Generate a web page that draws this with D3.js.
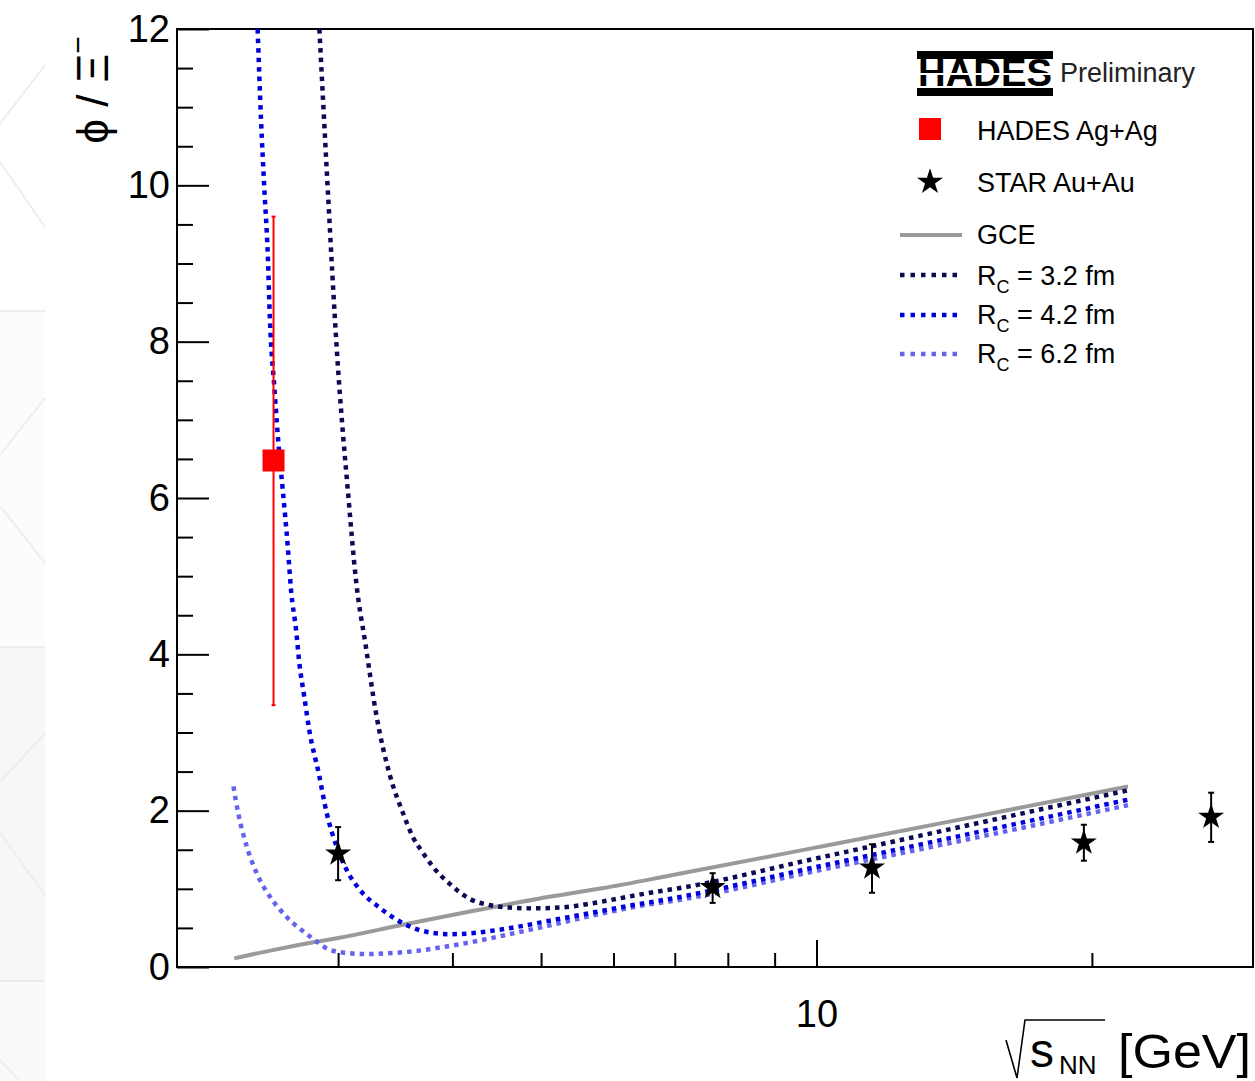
<!DOCTYPE html>
<html>
<head>
<meta charset="utf-8">
<script src="https://cdn.jsdelivr.net/npm/d3@7"></script>
<style>
  body { margin: 0; background: #fff; }
  text { font-family: "Liberation Sans", Arial, Helvetica, sans-serif; }
</style>
</head>
<body>
<svg id="chart" width="1255" height="1081"></svg>
<script>
// ---- axis setup ----
const xDomain = [2, 30];
const yDomain = [0, 12];
const yMajorTicks = [0, 2, 4, 6, 8, 10, 12];
const yMinorTicks = d3.range(0, 12.01, 0.5).filter(v => v % 2 !== 0);
const xMajorTicks = [10];
const xMinorTicks = [3, 4, 5, 6, 7, 8, 9, 20];

// ---- measurements ----
const hadesEnergy = [2.55];
const hadesRatio = [6.48];
const hadesLow = [3.35];
const hadesHigh = [9.60];

const starEnergy = [3.0, 7.7, 11.5, 19.6, 27.0];
const starRatio = [1.45, 1.02, 1.27, 1.59, 1.92];
const starLow = [1.11, 0.82, 0.95, 1.36, 1.60];
const starHigh = [1.79, 1.20, 1.57, 1.82, 2.23];

// ---- model curves ----
const gceEnergy = [2.31, 2.53, 2.8, 3.0, 3.53, 4.18, 4.95, 5.85, 6.92, 10, 15, 21.9];
const gceRatio  = [0.11, 0.21, 0.31, 0.37, 0.54, 0.71, 0.87, 1.01, 1.17, 1.53, 1.93, 2.31];

const rc32Energy = [2.862, 2.922, 2.992, 3.081, 3.138, 3.218, 3.30, 3.418, 3.532, 3.622, 3.714, 3.81,
                    3.976, 4.18, 4.40, 4.62, 4.86, 5.24, 5.66, 6.10, 6.58, 7.09, 10, 15, 21.9];
const rc32Ratio  = [12.0, 9.98, 7.85, 5.97, 4.95, 4.09, 3.25, 2.45, 1.97, 1.66, 1.46, 1.28,
                    1.06, 0.87, 0.79, 0.76, 0.75, 0.76, 0.81, 0.88, 0.95, 1.01, 1.39, 1.84, 2.26];

const rc42Energy = [2.45, 2.471, 2.491, 2.513, 2.527, 2.555, 2.587, 2.61, 2.643, 2.665, 2.699, 2.721,
                    2.755, 2.79, 2.857, 2.915, 2.989, 3.066, 3.17, 3.334, 3.532, 3.749, 3.976, 4.18,
                    4.396, 4.742, 5.15, 5.66, 6.25, 6.86, 10, 15, 21.9];
const rc42Ratio  = [12.0, 10.84, 9.98, 9.13, 8.28, 7.42, 6.57, 6.1, 5.38, 4.82, 4.31, 3.89,
                    3.46, 3.03, 2.48, 1.97, 1.54, 1.24, 0.985, 0.755, 0.56, 0.45, 0.42, 0.43,
                    0.46, 0.52, 0.60, 0.69, 0.785, 0.865, 1.28, 1.725, 2.14];

const rc62Energy = [2.305, 2.333, 2.384, 2.444, 2.527, 2.636, 2.795, 2.939, 3.091, 3.24, 3.39, 3.65,
                    3.93, 4.29, 4.66, 5.1, 5.7, 6.4, 7.09, 10, 15, 21.9];
const rc62Ratio  = [2.31, 1.97, 1.54, 1.20, 0.90, 0.64, 0.39, 0.22, 0.175, 0.165, 0.175, 0.205,
                    0.26, 0.34, 0.43, 0.53, 0.66, 0.78, 0.86, 1.23, 1.66, 2.07];

// ---- legend ----
const legendLabels = ["HADES Ag+Ag", "STAR Au+Au", "GCE", "3.2 fm", "4.2 fm", "6.2 fm"];

const colors = { hades: "#ff0000", star: "#000000", gce: "#9a9a9a",
                 rc32: "#0a0a55", rc42: "#0000dd", rc62: "#6464ee" };

const svg = d3.select("#chart");
const margin = { left: 177, top: 29, right: 1253, bottom: 967 };

const x = d3.scaleLog().domain(xDomain).range([margin.left, margin.right]);
const y = d3.scaleLinear().domain(yDomain).range([margin.bottom, margin.top]);

// ---- faint slide background on the left edge ----
const bg = svg.append("g").attr("class", "backdrop");
bg.append("rect").attr("x", 0).attr("y", 312).attr("width", 45).attr("height", 335).attr("fill", "#fcfcfc");
bg.append("rect").attr("x", 0).attr("y", 647).attr("width", 45).attr("height", 334).attr("fill", "#f7f7f7");
bg.append("rect").attr("x", 0).attr("y", 981).attr("width", 45).attr("height", 100).attr("fill", "#fafafa");
const bgLines = [[45, 65, 0, 124], [0, 162, 45, 227], [0, 311, 45, 311], [45, 398, 0, 455], [0, 506, 45, 563],
                 [0, 647, 45, 647], [45, 733, 0, 782], [0, 833, 45, 895], [0, 981, 45, 981], [0, 1060, 20, 1081]];
bg.selectAll("line").data(bgLines).join("line")
  .attr("x1", d => d[0]).attr("y1", d => d[1]).attr("x2", d => d[2]).attr("y2", d => d[3])
  .attr("stroke", "#ededed").attr("stroke-width", 2);

// ---- clip to the frame ----
svg.append("clipPath").attr("id", "plotClip")
  .append("rect").attr("x", margin.left).attr("y", margin.top)
  .attr("width", margin.right - margin.left).attr("height", margin.bottom - margin.top);

// ---- axes (ticks point inward) ----
const yAxis = d3.axisLeft(y).tickValues(yMajorTicks).tickSizeInner(-32).tickSizeOuter(0)
  .tickPadding(7).tickFormat(d3.format("d"));
const gy = svg.append("g").attr("transform", `translate(${margin.left},0)`).call(yAxis);
const yMinor = d3.axisLeft(y).tickValues(yMinorTicks).tickSizeInner(-16).tickSizeOuter(0).tickFormat("");
const gyMinor = svg.append("g").attr("transform", `translate(${margin.left},0)`).call(yMinor);

const xAxis = d3.axisBottom(x).tickValues(xMajorTicks).tickSizeInner(-27).tickSizeOuter(0)
  .tickPadding(33).tickFormat(d3.format("d"));
const gx = svg.append("g").attr("transform", `translate(0,${margin.bottom})`).call(xAxis);
const xMinor = d3.axisBottom(x).tickValues(xMinorTicks).tickSizeInner(-14).tickSizeOuter(0).tickFormat("");
const gxMinor = svg.append("g").attr("transform", `translate(0,${margin.bottom})`).call(xMinor);

[gy, gyMinor, gx, gxMinor].forEach(g => {
  g.select(".domain").remove();
  g.selectAll(".tick line").attr("stroke", "#000").attr("stroke-width", 2);
  g.selectAll(".tick text").attr("fill", "#000").attr("font-size", 38)
    .attr("font-family", "'Liberation Sans', Arial, sans-serif");
});

// frame
svg.append("rect").attr("x", margin.left).attr("y", margin.top)
  .attr("width", margin.right - margin.left).attr("height", margin.bottom - margin.top)
  .attr("fill", "none").attr("stroke", "#000").attr("stroke-width", 2);

// ---- axis titles ----
const yTitle = svg.append("text")
  .attr("transform", "translate(108,90) rotate(-90)")
  .attr("text-anchor", "middle").attr("font-size", 44).attr("fill", "#000")
  .attr("font-family", "'Liberation Serif', 'DejaVu Serif', serif");
yTitle.append("tspan").text("\u03D5 / \u039E");
yTitle.append("tspan").attr("font-size", 30).attr("dy", -20).text("\u2212");

const xt = svg.append("g").attr("class", "x-title");
xt.append("path")
  .attr("d", "M1006,1040 L1017,1078 L1025,1020 L1105,1020")
  .attr("fill", "none").attr("stroke", "#000").attr("stroke-width", 1.6);
xt.append("text").attr("x", 1030).attr("y", 1067).attr("font-size", 48).text("s");
xt.append("text").attr("x", 1059).attr("y", 1074).attr("font-size", 26).text("NN");
xt.append("text").attr("x", 1118).attr("y", 1068).attr("font-size", 48)
  .attr("textLength", 133).attr("lengthAdjust", "spacingAndGlyphs").text("[GeV]");

// ---- curves ----
const plot = svg.append("g").attr("clip-path", "url(#plotClip)");
const line = d3.line().x(d => x(d[0])).y(d => y(d[1])).curve(d3.curveMonotoneX);

const curves = [
  { e: gceEnergy,  r: gceRatio,  color: colors.gce,  dash: null },
  { e: rc62Energy, r: rc62Ratio, color: colors.rc62, dash: "4.5,5" },
  { e: rc42Energy, r: rc42Ratio, color: colors.rc42, dash: "4.5,5" },
  { e: rc32Energy, r: rc32Ratio, color: colors.rc32, dash: "4.5,5" }
];
curves.forEach(c => {
  plot.append("path")
    .datum(c.e.map((v, i) => [v, c.r[i]]))
    .attr("d", line)
    .attr("fill", "none")
    .attr("stroke", c.color)
    .attr("stroke-width", c.dash ? 4.5 : 4)
    .attr("stroke-dasharray", c.dash);
});

// ---- HADES point ----
hadesEnergy.forEach((e, i) => {
  const cx = x(e);
  plot.append("line").attr("x1", cx).attr("x2", cx)
    .attr("y1", y(hadesLow[i])).attr("y2", y(hadesHigh[i]))
    .attr("stroke", colors.hades).attr("stroke-width", 2);
  [hadesLow[i], hadesHigh[i]].forEach(v => {
    plot.append("line").attr("x1", cx - 2).attr("x2", cx + 2)
      .attr("y1", y(v)).attr("y2", y(v)).attr("stroke", colors.hades).attr("stroke-width", 2);
  });
  plot.append("rect").attr("x", cx - 11).attr("y", y(hadesRatio[i]) - 11)
    .attr("width", 22).attr("height", 22).attr("fill", colors.hades);
});

// ---- STAR points ----
const starSym = d3.symbol().type(d3.symbolStar).size(210);
starEnergy.forEach((e, i) => {
  const cx = x(e);
  plot.append("line").attr("x1", cx).attr("x2", cx)
    .attr("y1", y(starLow[i])).attr("y2", y(starHigh[i]))
    .attr("stroke", "#000").attr("stroke-width", 2);
  [starLow[i], starHigh[i]].forEach(v => {
    plot.append("line").attr("x1", cx - 3).attr("x2", cx + 3)
      .attr("y1", y(v)).attr("y2", y(v)).attr("stroke", "#000").attr("stroke-width", 2);
  });
  plot.append("path").attr("d", starSym)
    .attr("transform", `translate(${cx},${y(starRatio[i])})`).attr("fill", colors.star);
});

// ---- legend ----
const lg = svg.append("g").attr("class", "legend");
// HADES logo: black bars above and below heavy lettering
lg.append("rect").attr("x", 917).attr("y", 51).attr("width", 136).attr("height", 8).attr("fill", "#000");
lg.append("rect").attr("x", 917).attr("y", 88).attr("width", 136).attr("height", 8).attr("fill", "#000");
lg.append("text").attr("x", 918).attr("y", 86).attr("font-size", 38)
  .attr("font-family", "'DejaVu Serif', serif").attr("font-weight", "bold")
  .attr("textLength", 134).attr("lengthAdjust", "spacingAndGlyphs").text("HADES");
lg.append("rect").attr("x", 917).attr("y", 73).attr("width", 136).attr("height", 2).attr("fill", "#fff");
lg.append("text").attr("x", 1060).attr("y", 82).attr("font-size", 27).attr("fill", "#222").text("Preliminary");

const textX = 977;
lg.append("rect").attr("x", 919).attr("y", 118).attr("width", 22).attr("height", 22).attr("fill", colors.hades);
lg.append("text").attr("x", textX).attr("y", 140).attr("font-size", 27).text(legendLabels[0]);

lg.append("path").attr("d", starSym).attr("transform", "translate(930,182)").attr("fill", colors.star);
lg.append("text").attr("x", textX).attr("y", 192).attr("font-size", 27).text(legendLabels[1]);

lg.append("line").attr("x1", 900).attr("x2", 962).attr("y1", 235).attr("y2", 235)
  .attr("stroke", colors.gce).attr("stroke-width", 4);
lg.append("text").attr("x", textX).attr("y", 244).attr("font-size", 27).text(legendLabels[2]);

const rcRows = [
  { yy: 275, base: 285, color: colors.rc32, label: legendLabels[3] },
  { yy: 315, base: 324, color: colors.rc42, label: legendLabels[4] },
  { yy: 354, base: 363, color: colors.rc62, label: legendLabels[5] }
];
rcRows.forEach(r => {
  lg.append("line").attr("x1", 900).attr("x2", 962).attr("y1", r.yy).attr("y2", r.yy)
    .attr("stroke", r.color).attr("stroke-width", 4.5).attr("stroke-dasharray", "4.5,6");
  const t = lg.append("text").attr("x", textX).attr("y", r.base).attr("font-size", 27);
  t.append("tspan").text("R");
  t.append("tspan").attr("font-size", 18).attr("dy", 8).text("C");
  t.append("tspan").attr("dy", -8).text(" = " + r.label);
});
</script>
</body>
</html>
